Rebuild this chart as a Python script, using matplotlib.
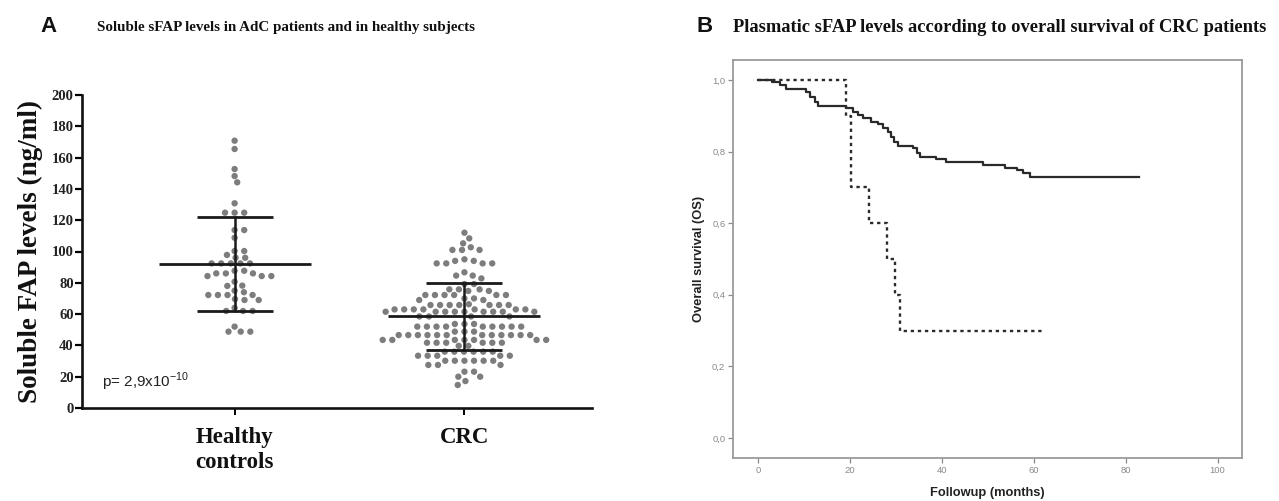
import numpy as np
import matplotlib
matplotlib.use("Agg")
import matplotlib.pyplot as plt

# ---------------- data ----------------
categories = ["Healthy\ncontrols", "CRC"]
healthy_values = [170.8, 165.5, 152.7, 148.2, 144.2, 130.8, 124.8, 124.8, 124.8,
                  113.7, 113.7, 108.8, 100.3, 100.3, 97.8, 96.0, 96.0,
                  92.4, 92.4, 92.4, 92.4, 92.4, 87.7, 87.7, 86.0, 86.0, 86.0,
                  84.3, 84.3, 84.3, 80.7, 78.2, 78.0, 75.0, 74.0,
                  72.2, 72.2, 72.2, 72.2, 69.6, 69.0, 69.0, 64.0, 62.0, 62.0, 62.0,
                  52.0, 48.8, 48.8, 48.8]
crc_values = [112.0, 108.4, 105.2, 102.7, 101.0, 101.0, 101.0, 95.0, 94.0, 94.0,
              92.4, 92.4, 92.4, 92.4, 86.7, 84.6, 84.6, 82.8, 79.2, 79.2,
              75.8, 75.8, 75.8, 74.8, 74.8, 72.2, 72.2, 72.2, 72.2, 72.2, 72.2,
              70.0, 70.0, 69.0, 69.0,
              65.8, 65.8, 65.8, 65.8, 65.8, 65.8, 65.8, 66.3,
              63.0, 63.0, 63.0, 63.0, 63.0, 63.0, 63.0,
              61.5, 61.5, 61.5, 61.5, 61.5, 61.5, 61.5, 61.5, 61.5,
              58.5, 58.5, 58.5, 58.5,
              53.7, 53.7, 53.7,
              52.0, 52.0, 52.0, 52.0, 52.0, 52.0, 52.0, 52.0, 52.0,
              48.8, 48.8, 48.8,
              46.6, 46.6, 46.6, 46.6, 46.6, 46.6, 46.6, 46.6, 46.6, 46.6, 46.6, 46.6,
              43.5, 43.5, 43.5, 43.5, 43.5, 43.5, 43.5,
              41.7, 41.7, 41.7, 41.7, 41.7, 41.7, 39.7, 39.7,
              36.0, 36.0, 36.0, 36.0, 36.0, 36.0,
              33.4, 33.4, 33.4, 33.4, 33.4,
              30.2, 30.2, 30.2, 30.2, 30.2, 30.2,
              27.5, 27.5, 27.5, 23.2, 23.2, 20.0, 20.0, 17.2, 14.7]
group_mean = [92.0, 58.5]
group_sd = [30.0, 21.5]
yticks_a = [0, 20, 40, 60, 80, 100, 120, 140, 160, 180, 200]

# Kaplan-Meier curves (months, survival)
solid_t = [0, 2.9, 4.7, 6.1, 10.4, 11.2, 12.3, 13.0, 19.2, 20.6, 21.7, 22.8, 24.6,
           26.0, 27.1, 28.2, 28.9, 29.6, 30.4, 33.7, 34.6, 35.1, 38.6, 40.8, 48.9,
           53.7, 56.3, 57.7, 59.2, 82.8]
solid_s = [1.0, 0.995, 0.986, 0.975, 0.967, 0.953, 0.939, 0.928, 0.921, 0.911, 0.902,
           0.893, 0.884, 0.876, 0.865, 0.854, 0.842, 0.828, 0.817, 0.809, 0.795, 0.786,
           0.779, 0.770, 0.763, 0.755, 0.749, 0.740, 0.728, 0.728]
dashed_t = [0, 19.0, 20.1, 24.1, 28.0, 29.8, 30.9, 62.0]
dashed_s = [1.0, 0.9, 0.7, 0.6, 0.5, 0.4, 0.3, 0.3]
xticks_b = [0, 20, 40, 60, 80, 100]
yticks_b = [0.0, 0.2, 0.4, 0.6, 0.8, 1.0]

# ---------------- figure ----------------
W, H = 1279, 501
fig = plt.figure(figsize=(W / 100, H / 100), dpi=100)
serif = "Liberation Serif"
sans = "Liberation Sans"

def fr(x0, y0, x1, y1):
    return [x0 / W, 1 - y1 / H, (x1 - x0) / W, (y1 - y0) / H]

# ---------- Panel A ----------
axA = fig.add_axes(fr(82, 95, 592, 408))
axA.set_xlim(-0.664, 1.555)
axA.set_ylim(0, 200)
for s in ["top", "right"]:
    axA.spines[s].set_visible(False)
for s in ["left", "bottom"]:
    axA.spines[s].set_linewidth(1.9)
    axA.spines[s].set_color("#111111")
axA.set_yticks(yticks_a)
axA.set_yticklabels([str(v) for v in yticks_a], fontfamily=serif,
                    fontweight="bold", fontsize=10.5, color="#222222")
axA.set_xticks([0, 1])
axA.set_xticklabels(categories, fontfamily=serif, fontweight="bold",
                    fontsize=16.5, color="#111111", linespacing=1.25)
axA.tick_params(axis="y", direction="out", length=5, width=1.6, pad=1)
axA.tick_params(axis="x", direction="out", length=5, width=1.4, pad=9)
axA.set_ylabel("Soluble FAP levels (ng/ml)", fontfamily=serif, fontweight="bold",
               fontsize=19.5, color="#111111", labelpad=6)

def swarm_offsets(ax, xc, values, ax_px, ay_px):
    """Greedy beeswarm with an elliptical exclusion zone (pixels)."""
    tr = ax.transData
    vals = np.asarray(values, dtype=float)
    ypx = tr.transform(np.column_stack([np.full(len(vals), xc), vals]))[:, 1]
    px_per_x = tr.transform([(1, 0)])[0][0] - tr.transform([(0, 0)])[0][0]
    order = np.argsort(-vals, kind="stable")
    placed = []
    offs = np.zeros(len(vals))
    for i in order:
        y = ypx[i]
        cands = [0.0]
        for (px, py) in placed:
            dy = abs(py - y)
            if dy < ay_px:
                dx = ax_px * np.sqrt(1 - (dy / ay_px) ** 2)
                cands += [px + dx, px - dx]
        cands = sorted(set(cands), key=lambda c: (abs(c), -c))
        for c in cands:
            ok = True
            for (px, py) in placed:
                if ((px - c) / ax_px) ** 2 + ((py - y) / ay_px) ** 2 < 1 - 1e-6:
                    ok = False
                    break
            if ok:
                placed.append((c, y))
                offs[i] = c / px_per_x
                break
    return offs

for xi, vals in enumerate([healthy_values, crc_values]):
    offs = swarm_offsets(axA, xi, vals, 9.6, 6.5)
    axA.scatter(xi + offs, vals, s=21, color="#7d7d7d", edgecolors="none", zorder=2)

px_per_x = axA.transData.transform([(1, 0)])[0][0] - axA.transData.transform([(0, 0)])[0][0]
for xi in range(2):
    m, sd = group_mean[xi], group_sd[xi]
    hw_m = 76 / px_per_x
    hw_s = 38 / px_per_x
    axA.plot([xi - hw_m, xi + hw_m], [m, m], color="#1a1a1a", lw=2.0, zorder=3,
             solid_capstyle="butt")
    axA.plot([xi - hw_s, xi + hw_s], [m + sd, m + sd], color="#1a1a1a", lw=2.0,
             zorder=3, solid_capstyle="butt")
    axA.plot([xi - hw_s, xi + hw_s], [m - sd, m - sd], color="#1a1a1a", lw=2.0,
             zorder=3, solid_capstyle="butt")
    axA.plot([xi, xi], [m - sd, m + sd], color="#1a1a1a", lw=1.8, zorder=3)

axA.text(0.04, 0.085, r"p= 2,9x10$^{\mathregular{-10}}$", transform=axA.transAxes,
         fontfamily=sans, fontsize=11, color="#222222", ha="left", va="center")

fig.text(40 / W, 1 - 27 / H, "A", fontfamily=sans, fontweight="bold", fontsize=16,
         color="#111111", ha="left", va="center")
fig.text(97 / W, 1 - 27 / H, "Soluble sFAP levels in AdC patients and in healthy subjects",
         fontfamily=serif, fontweight="bold", fontsize=10.8, color="#111111",
         ha="left", va="center")

# ---------- Panel B ----------
axB = fig.add_axes(fr(733, 60, 1242, 458))
axB.set_xlim(-5.5, 105.3)
axB.set_ylim(-0.056, 1.056)
for s in axB.spines.values():
    s.set_color("#9a9a9a")
    s.set_linewidth(1.3)
axB.set_xticks(xticks_b)
axB.set_xticklabels([str(v) for v in xticks_b], fontfamily=sans, fontsize=6.8,
                    color="#8a8a8a")
axB.set_yticks(yticks_b)
axB.set_yticklabels([f"{v:.1f}".replace(".", ",") for v in yticks_b],
                    fontfamily=sans, fontsize=6.8, color="#8a8a8a")
axB.tick_params(axis="both", direction="out", length=3.5, width=0.9, color="#8a8a8a",
                pad=2)
axB.set_xlabel("Followup (months)", fontfamily=sans, fontweight="bold", fontsize=9.3,
               color="#222222", labelpad=9)
axB.set_ylabel("Overall survival (OS)", fontfamily=sans, fontweight="bold", fontsize=9.3,
               color="#222222", labelpad=5)

axB.step(solid_t, solid_s, where="post", color="#2a2a2a", lw=1.6, zorder=3)
axB.step(dashed_t, dashed_s, where="post", color="#2a2a2a", lw=1.7, zorder=3,
         linestyle=(0, (1.4, 1.6)))

fig.text(697 / W, 1 - 27 / H, "B", fontfamily=sans, fontweight="bold", fontsize=16,
         color="#111111", ha="left", va="center")
fig.text(733 / W, 1 - 27 / H,
         "Plasmatic sFAP levels according to overall survival of CRC patients",
         fontfamily=serif, fontweight="bold", fontsize=13.3, color="#111111",
         ha="left", va="center")

fig.savefig("out.png", dpi=100)
